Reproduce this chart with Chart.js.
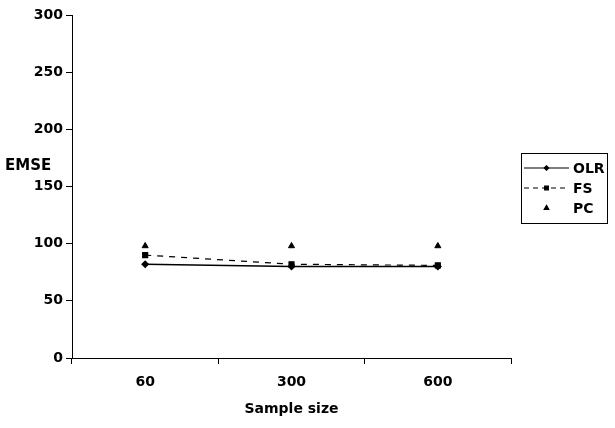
<!DOCTYPE html>
<html>
<head>
<meta charset="utf-8">
<script src="https://cdn.jsdelivr.net/npm/chart.js@4"></script>
<style>
  html, body { margin: 0; padding: 0; background: #fff; }
  #wrap { width: 615px; height: 428px; }
</style>
</head>
<body>
<div id="wrap"><canvas id="c" width="615" height="428"></canvas></div>
<script>
const categories = ["60", "300", "600"];
const olr = [82, 80, 80];
const fs = [90, 82, 81];
const pc = [98, 98, 98];
const yTicks = [0, 50, 100, 150, 200, 250, 300];
const yTitle = "EMSE";
const xTitle = "Sample size";

const FONT = "'DejaVu Sans', sans-serif";

const customPlugin = {
  id: 'custom',
  afterDraw(chart) {
    const ctx = chart.ctx;
    ctx.save();
    // Horizontal y-axis title
    ctx.fillStyle = '#000';
    ctx.font = "bold 15px " + FONT;
    ctx.textAlign = 'left';
    ctx.textBaseline = 'middle';
    ctx.fillText(yTitle, 5, 166);
    // Legend
    const bx = 521, by = 153, bw = 86, bh = 70;
    ctx.strokeStyle = '#000';
    ctx.lineWidth = 1;
    ctx.strokeRect(bx + 0.5, by + 0.5, bw, bh);
    const rows = [168, 188, 208];
    const ds = chart.data.datasets;
    ds.forEach((d, i) => {
      const y = rows[i];
      const x0 = bx + 3, x1 = bx + 48, xm = (x0 + x1) / 2;
      if (d.showLine !== false) {
        ctx.beginPath();
        ctx.strokeStyle = '#000';
        ctx.setLineDash(d.borderDash ? [5, 4] : []);
        ctx.lineWidth = 1.2;
        ctx.moveTo(x0, y);
        ctx.lineTo(x1, y);
        ctx.stroke();
        ctx.setLineDash([]);
      }
      ctx.fillStyle = '#000';
      ctx.strokeStyle = '#000';
      Chart.helpers.drawPoint(ctx, {
        pointStyle: d.pointStyle,
        radius: d.pointRadius * 0.75,
        rotation: 0,
        borderWidth: 1
      }, xm, y);
      ctx.fillStyle = '#000';
      ctx.font = "bold 14px " + FONT;
      ctx.textAlign = 'left';
      ctx.textBaseline = 'middle';
      ctx.fillText(d.label, x1 + 4, y + 1);
    });
    ctx.restore();
  }
};

new Chart(document.getElementById('c'), {
  type: 'line',
  data: {
    labels: categories,
    datasets: [
      { label: 'OLR', data: olr, borderColor: '#000', backgroundColor: '#000',
        borderWidth: 1.5, pointStyle: 'rectRot', pointRadius: 3, tension: 0 },
      { label: 'FS', data: fs, borderColor: '#000', backgroundColor: '#000',
        borderWidth: 1.2, borderDash: [6, 6], pointStyle: 'rect', pointRadius: 3.5, tension: 0 },
      { label: 'PC', data: pc, borderColor: '#000', backgroundColor: '#000',
        showLine: false, pointStyle: 'triangle', pointRadius: 3.5 }
    ]
  },
  options: {
    responsive: false,
    animation: false,
    layout: { padding: { left: 0, right: 104, top: 15, bottom: 10 } },
    plugins: { legend: { display: false }, tooltip: { enabled: false } },
    scales: {
      x: {
        type: 'category',
        offset: true,
        grid: { offset: true, drawOnChartArea: false, drawTicks: true, tickLength: 6, color: '#000' },
        border: { display: true, color: '#000', width: 1 },
        ticks: { color: '#000', font: { family: FONT, size: 14, weight: 'bold' }, padding: 10 },
        title: { display: true, text: xTitle, color: '#000', font: { family: FONT, size: 14, weight: 'bold' }, padding: { top: 6, bottom: 0 } },
        afterFit(scale) { scale.height = 60; }
      },
      y: {
        min: 0, max: 300,
        afterBuildTicks(scale) { scale.ticks = yTicks.map(v => ({ value: v })); },
        grid: { drawOnChartArea: false, drawTicks: true, tickLength: 6, color: '#000' },
        border: { display: true, color: '#000', width: 1 },
        ticks: { color: '#000', font: { family: FONT, size: 14, weight: 'bold' }, padding: 3 },
        afterFit(scale) { scale.width = 72; }
      }
    }
  },
  plugins: [customPlugin]
});
</script>
</body>
</html>
